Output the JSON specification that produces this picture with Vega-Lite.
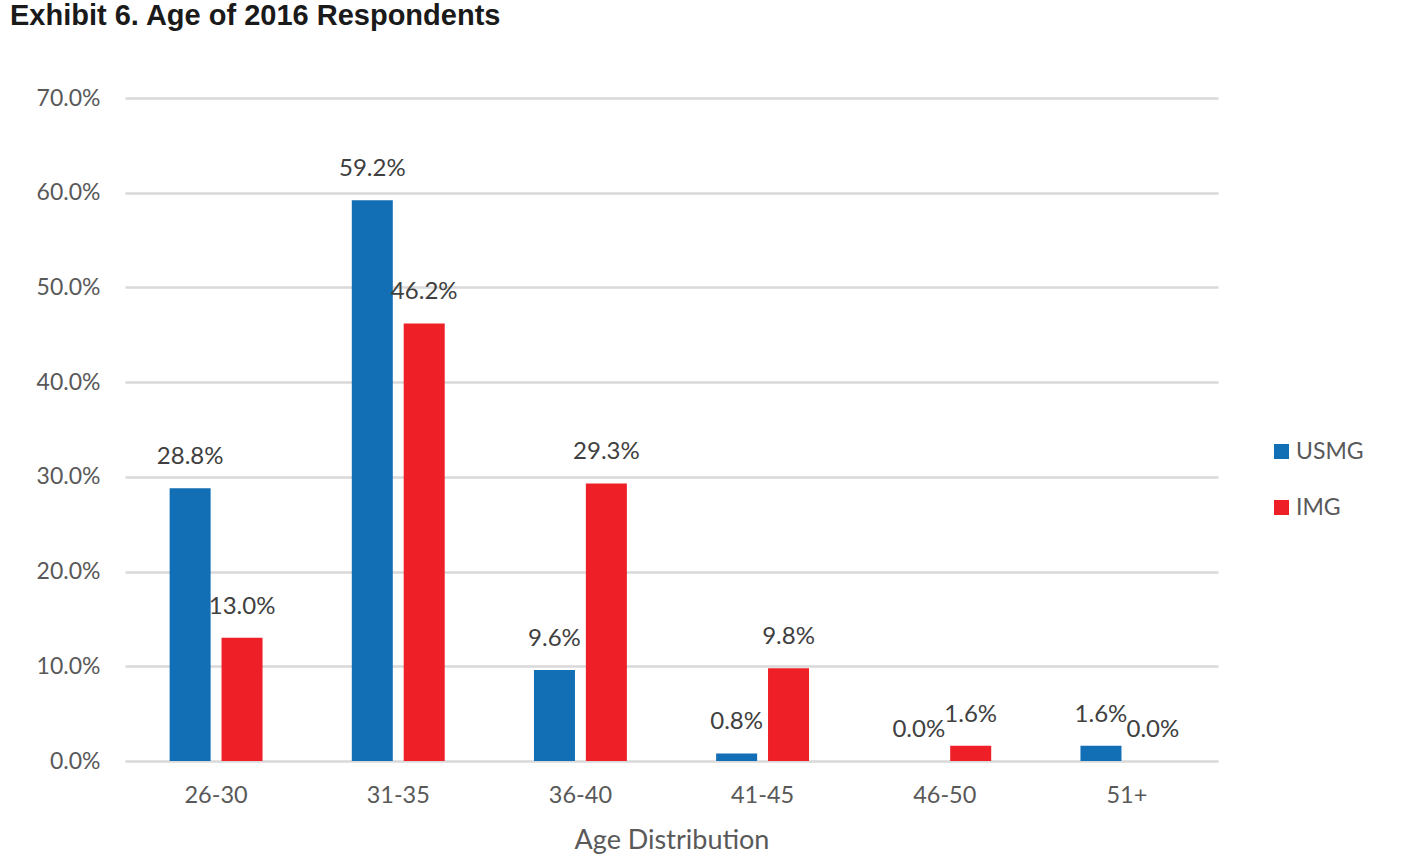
{
  "$schema": "https://vega.github.io/schema/vega-lite/v6.json",
  "width": 1093,
  "height": 663,
  "autosize": {"type": "none"},
  "padding": {"left": 125, "top": 98, "right": 196, "bottom": 107},
  "background": "white",
  "title": {
    "text": "Exhibit 6. Age of 2016 Respondents",
    "anchor": "start",
    "frame": "group",
    "dx": -115,
    "offset": 56,
    "font": "Liberation Sans",
    "fontSize": 29,
    "fontWeight": "bold",
    "color": "#1a1a1a"
  },
  "data": {
    "values": [
      {"age": "26-30", "group": "USMG", "pct": 0.288},
      {"age": "26-30", "group": "IMG", "pct": 0.130},
      {"age": "31-35", "group": "USMG", "pct": 0.592},
      {"age": "31-35", "group": "IMG", "pct": 0.462},
      {"age": "36-40", "group": "USMG", "pct": 0.096},
      {"age": "36-40", "group": "IMG", "pct": 0.293},
      {"age": "41-45", "group": "USMG", "pct": 0.008},
      {"age": "41-45", "group": "IMG", "pct": 0.098},
      {"age": "46-50", "group": "USMG", "pct": 0.0},
      {"age": "46-50", "group": "IMG", "pct": 0.016},
      {"age": "51+", "group": "USMG", "pct": 0.016},
      {"age": "51+", "group": "IMG", "pct": 0.0}
    ]
  },
  "encoding": {
    "x": {
      "field": "age",
      "type": "nominal",
      "sort": null,
      "scale": {"paddingInner": 0.49, "paddingOuter": 0.245},
      "axis": {
        "title": "Age Distribution",
        "labelAngle": 0,
        "domain": false,
        "ticks": false,
        "labelPadding": 22,
        "labelFontSize": 23.5,
        "titleFontSize": 27,
        "titleFontWeight": "normal",
        "titlePadding": 21
      }
    },
    "xOffset": {
      "field": "group",
      "type": "nominal",
      "sort": ["USMG", "IMG"],
      "scale": {"paddingInner": 0.21}
    },
    "y": {
      "field": "pct",
      "type": "quantitative",
      "scale": {"domain": [0, 0.7]},
      "axis": {
        "title": null,
        "format": ".1%",
        "values": [0, 0.1, 0.2, 0.3, 0.4, 0.5, 0.6, 0.7],
        "domain": false,
        "ticks": false,
        "grid": true,
        "gridColor": "#D9D9D9",
        "gridWidth": 2.5,
        "labelPadding": 25,
        "labelFontSize": 23
      }
    }
  },
  "layer": [
    {
      "mark": {"type": "bar"},
      "encoding": {
        "color": {
          "field": "group",
          "type": "nominal",
          "scale": {"domain": ["USMG", "IMG"], "range": ["#126EB5", "#EE1F26"]},
          "legend": {
            "title": null,
            "orient": "none",
            "legendX": 1145,
            "legendY": 342,
            "symbolType": "square",
            "symbolSize": 225,
            "symbolStrokeWidth": 0,
            "labelFontSize": 23,
            "labelOffset": 3,
            "rowPadding": 32,
            "labelColor": "#595959",
            "labelFont": "Lato"
          }
        }
      }
    },
    {
      "mark": {"type": "text", "dy": -31, "fontSize": 24, "font": "Lato", "color": "#404040", "baseline": "middle"},
      "encoding": {
        "text": {"field": "pct", "type": "quantitative", "format": ".1%"}
      }
    }
  ],
  "config": {
    "view": {"stroke": null},
    "axis": {"labelColor": "#595959", "titleColor": "#595959", "labelFont": "Lato", "titleFont": "Lato"}
  }
}
